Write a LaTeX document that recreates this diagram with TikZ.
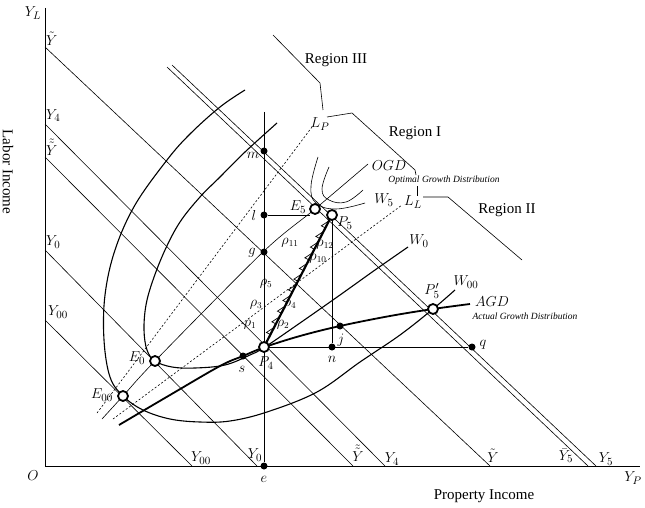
\documentclass[tikz,border=0pt]{standalone}
\usepackage{fontspec}
\setmainfont{Liberation Serif}
\begin{document}
\begin{tikzpicture}[x=1pt,y=-1pt,
  budget/.style={line width=0.6pt},
  wcurve/.style={line width=1.1pt},
  dot/.style={circle,fill=black,inner sep=0pt,minimum size=7pt},
  opendot/.style={circle,draw=black,fill=white,line width=1.8pt,inner sep=0pt,minimum size=10pt},
  lbl/.style={font=\fontsize{15}{17}\selectfont, inner sep=0pt},
  rho/.style={font=\fontsize{13.5}{15}\selectfont, inner sep=0pt},
  big/.style={font=\fontsize{15}{18}\selectfont, inner sep=0pt},
  small/.style={font=\fontsize{9.5}{11}\selectfont\itshape, inner sep=0pt},
  dashline/.style={dash pattern=on 2pt off 2pt, line width=0.6pt},
  bracket/.style={line width=0.6pt},
  tooth/.style={line width=0.7pt, line join=miter}
]
\useasboundingbox (0,0) rectangle (645,508);

% axes
\coordinate (O) at (45,466);
\coordinate (YLtop) at (45,8);
\coordinate (YPend) at (640,466);
\draw[line width=0.7pt] (YLtop) -- (O) -- (YPend);

% budget lines
\coordinate (Yt1) at (45,47);   \coordinate (Yt2) at (490,466);
\coordinate (Y41) at (45,124);  \coordinate (Y42) at (385,466);
\coordinate (Ytt1) at (45,157); \coordinate (Ytt2) at (353,466);
\coordinate (Y01) at (45,250);  \coordinate (Y02) at (257,466);
\coordinate (Y001) at (45,320); \coordinate (Y002) at (192,466);
\coordinate (Yb51) at (167,67); \coordinate (Yb52) at (588,466);
\coordinate (Y51) at (172,65);  \coordinate (Y52) at (596,466);
\draw[budget] (Yt1) -- (Yt2);
\draw[budget] (Y41) -- (Y42);
\draw[budget] (Ytt1) -- (Ytt2);
\draw[budget] (Y01) -- (Y02);
\draw[budget] (Y001) -- (Y002);
\draw[budget] (Yb51) -- (Yb52);
\draw[budget] (Y51) -- (Y52);

% dashed rays
\coordinate (LP1) at (97,413);  \coordinate (LP2) at (312,127);
\coordinate (LL1) at (113,419); \coordinate (LL2) at (402,205);
\draw[dashline] (LP1) -- (LP2);
\draw[dashline] (LL1) -- (LL2);

% indifference curves
\draw[wcurve] plot[smooth, tension=0.6] coordinates {(245,90) (220,107) (190,134) (167,160) (135,205) (115,250) (105,295) (104,340) (110,377) (123,396) (143,410) (170,419) (200,422) (230,421) (267,412) (317,392) (360,362) (400,335) (433,309) (455,290)};
\draw[wcurve] plot[smooth, tension=0.6] coordinates {(277,123) (245,152) (220,177) (200,197) (180,222) (165,250) (153,280) (146,305) (144,330) (147,350) (155,361) (172,367) (195,368) (225,365) (250,355) (265,347) (300,323) (340,295) (375,270) (408,247)};

% expansion path
\draw[budget] plot[smooth, tension=0.5] coordinates {(102,419) (123,396) (155,361) (263,252) (315,209) (368,164)};

% curves near E5
\draw[budget] plot[smooth, tension=0.7] coordinates {(318,157) (311,186) (316,203) (336,209) (365,203)};
\draw[budget] plot[smooth, tension=0.7] coordinates {(329,167) (322,189) (329,200) (346,202) (363,190)};

% AGD
\draw[line width=1.8pt] plot[smooth, tension=0.6] coordinates {(119,425) (170,395) (220,366) (243,356) (265,347) (300,336) (340,326) (390,316) (433,309) (470,304)};

% points
\node[dot] (m) at (264,151) {};
\node[dot] (l) at (264,215) {};
\node[dot] (g) at (264,252) {};
\node[dot] (s) at (243,356) {};
\node[dot] (j) at (340,326) {};
\node[dot] (n) at (332,347) {};
\node[dot] (q) at (472,347) {};
\node[dot] (e) at (264,466) {};
\coordinate (vtop) at (264,112);
\coordinate (lend) at (310,215);

% vertical and horizontal guides
\draw[budget] (vtop) -- (e);
\draw[budget] (l) -- (lend);

% P4-P5 path
\coordinate (P4c) at (264,347);
\coordinate (P5c) at (332,215);
\draw[budget] (P5c) -- (n);
\draw[budget] (P4c) -- (q);
\draw[line width=2.2pt] (P4c) -- (P5c);
\foreach \s in {14,26,38,50,62,74,86,98,110,122,134} {
  \draw[tooth] (264+\s*0.458, 347-\s*0.889) -- ++(-4.0,-2.06) -- (264+\s*0.458+3.7, 347-\s*0.889-7.1);
}

% open circles
\node[opendot] (E00) at (123,396) {};
\node[opendot] (E0) at (155,361) {};
\node[opendot] (E5) at (315,209) {};
\node[opendot] (P5) at (P5c) {};
\node[opendot] (P4) at (P4c) {};
\node[opendot] (P5p) at (433,309) {};

% region brackets
\draw[bracket] (323,110) -- (320,83) -- (273,35);
\draw[bracket] (327,117) -- (352,113) -- (415,170) -- (416,175);
\draw[bracket] (417,186) -- (417,196);
\draw[bracket] (423,197) -- (448,197) -- (522,260);

% text labels
\node[big] at (336,60) {Region III};
\node[big] at (415,133) {Region I};
\node[big] at (507,210) {Region II};
\node[big] at (484,496) {Property Income};
\node[big, rotate=-90] at (8,172) {Labor Income};

\node[lbl] at (33,13) {$Y_L$};
\node[lbl] at (33,476) {$O$};
\node[lbl] at (633,478) {$Y_P$};
\node[lbl, anchor=west] at (46,39) {$\tilde{Y}$};
\node[lbl, anchor=west] at (46,116) {$Y_4$};
\node[lbl, anchor=west] at (46,147) {$\tilde{\tilde{Y}}$};
\node[lbl, anchor=west] at (46,242) {$Y_0$};
\node[lbl, anchor=west] at (48,312) {$Y_{00}$};
\node[lbl] at (201,458) {$Y_{00}$};
\node[lbl] at (255,455) {$Y_0$};
\node[lbl] at (358,453) {$\tilde{\tilde{Y}}$};
\node[lbl] at (392,459) {$Y_4$};
\node[lbl] at (493,456) {$\tilde{Y}$};
\node[lbl] at (566,456) {$\bar{Y}_5$};
\node[lbl] at (606,459) {$Y_5$};

\node[lbl] at (253,155) {$m$};
\node[lbl] at (254,215) {$l$};
\node[lbl] at (252,253) {$g$};
\node[lbl] at (242,369) {$s$};
\node[lbl] at (341,340) {$j$};
\node[lbl] at (332,359) {$n$};
\node[lbl] at (483,345) {$q$};
\node[lbl] at (264,479) {$e$};
\node[lbl] at (266,363) {$P_4$};
\node[lbl] at (137,358) {$E_0$};
\node[lbl] at (102,395) {$E_{00}$};
\node[lbl] at (298,207) {$E_5$};
\node[lbl] at (345,223) {$P_5$};
\node[lbl] at (432,291) {$P_5'$};

\node[lbl] at (320,124) {$L_P$};
\node[lbl] at (413,202) {$L_L$};
\node[lbl] at (389,166) {$OGD$};
\node[small] at (444,180) {Optimal Growth Distribution};
\node[lbl] at (384,200) {$W_5$};
\node[lbl] at (419,241) {$W_0$};
\node[lbl] at (466,282) {$W_{00}$};
\node[lbl] at (492,302) {$AGD$};
\node[small] at (525,316) {Actual Growth Distribution};

\node[rho] at (290,243) {$\rho_{11}$};
\node[rho] at (325,245) {$\rho_{12}$};
\node[rho] at (318,259) {$\rho_{10}$};
\node[rho] at (266,284) {$\rho_5$};
\node[rho] at (256,305) {$\rho_3$};
\node[rho] at (290,305) {$\rho_4$};
\node[rho] at (250,325) {$\rho_1$};
\node[rho] at (283,325) {$\rho_2$};
\end{tikzpicture}
\end{document}
